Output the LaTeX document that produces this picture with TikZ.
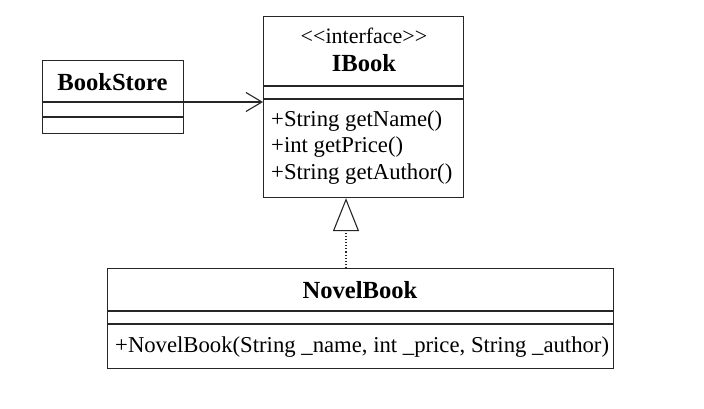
\documentclass[tikz,border=0pt]{standalone}
\usepackage{fontspec}
\setmainfont{Liberation Serif}
\usetikzlibrary{arrows.meta}
\begin{document}
\begin{tikzpicture}[x=1pt,y=-1pt,
  box/.style={draw=black!85,line width=1.1pt,rectangle,inner sep=0pt,anchor=north west},
  sep/.style={draw=black!85,line width=1.1pt},
  title/.style={font=\fontsize{24.6}{26}\selectfont\bfseries,inner sep=0pt},
  txt/.style={font=\fontsize{22.7}{26}\selectfont,inner sep=0pt,anchor=west},
  conn/.style={draw=black!85,line width=1.1pt}]
\useasboundingbox (0,0) rectangle (704,409);
% BookStore
\node[box,minimum width=141pt,minimum height=73pt] (bs) at (42,60) {};
\draw[sep] (42,102) -- (183,102);
\draw[sep] (42,117) -- (183,117);
\node[title] (bst) at (112.5,82) {BookStore};
% IBook
\node[box,minimum width=200pt,minimum height=181pt] (ib) at (263,16) {};
\draw[sep] (263,86) -- (463,86);
\draw[sep] (263,99) -- (463,99);
\node[font=\fontsize{22}{24}\selectfont,inner sep=0pt] (ibs) at (364,36) {{<}{<}interface{>}{>}};
\node[title] (ibt) at (364,63) {IBook};
\node[txt] (m1) at (271,121) {+String getName()};
\node[txt] (m2) at (271,147) {+int getPrice()};
\node[txt] (m3) at (271,174) {+String getAuthor()};
% NovelBook
\node[box,minimum width=506pt,minimum height=100pt] (nb) at (107,268) {};
\draw[sep] (107,311) -- (613,311);
\draw[sep] (107,324) -- (613,324);
\node[title] (nbt) at (360,290) {NovelBook};
\node[txt] (nm) at (115,347) {+NovelBook(String \_name, int \_price, String \_author)};
% connectors
\coordinate (a1) at (183,102);
\coordinate (a2) at (263,102);
\draw[conn,-{Straight Barb[length=16pt,width=19pt,line width=1.1pt]}] (bs.east |- a1) -- (ib.west |- a2);
\coordinate (r1) at (346,268);
\coordinate (r2) at (346,198);
\draw[conn,dotted,-{Triangle[open,length=33pt,width=26pt,line width=1.1pt]}] (nb.north -| r1) -- (ib.south -| r2);
\end{tikzpicture}
\end{document}
